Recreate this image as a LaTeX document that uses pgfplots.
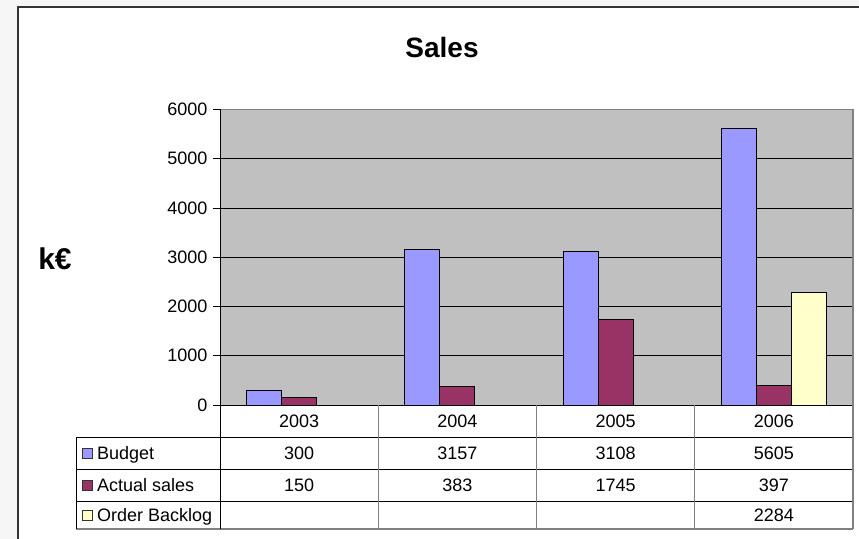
\documentclass[border=0pt]{standalone}
\usepackage{fontspec}
\setmainfont{Liberation Sans}
\usepackage{pgfplots}
\pgfplotsset{compat=1.18}

\definecolor{budget}{HTML}{9999FF}
\definecolor{actual}{HTML}{993366}
\definecolor{backlog}{HTML}{FFFFCC}
\definecolor{plotbg}{HTML}{C0C0C0}
\definecolor{tline}{HTML}{808080}

\begin{document}
\begin{tikzpicture}[x=1bp, y=1bp, font=\fontsize{18bp}{21.6bp}\selectfont]
  \useasboundingbox (0,0) rectangle (859,539);
  \clip (0,0) rectangle (859,539);
  % page background and chart frame
  \fill[gray!7] (0,0) rectangle (859,539);
  \fill[white] (18,-5) rectangle (870,532);
  \draw[line width=1.6bp, black!80] (18,-5) -- (18,532) -- (870,532);

  % title and unit
  \node[font=\fontsize{28bp}{32bp}\selectfont\bfseries] at (442,491) {Sales};
  \node[font=\fontsize{30bp}{34bp}\selectfont\bfseries] at (55,280) {k€};

  \begin{axis}[
    at={(220bp,134bp)}, anchor=south west,
    scale only axis, width=633bp, height=295.5bp,
    xmin=-0.5, xmax=3.5, ymin=0, ymax=6000,
    ybar=0pt, bar width=35bp,
    xtick=\empty,
    ytick={0,1000,...,6000},
    scaled y ticks=false,
    y tick label style={/pgf/number format/1000 sep={},
      /pgf/number format/assume math mode=true, xshift=-2bp},
    tick align=outside, major tick length=7bp, ytick pos=left,
    tick style={black, line width=0.8bp},
    ymajorgrids, grid style={black, line width=0.8bp},
    axis background/.style={fill=plotbg},
    axis line style={draw=none},
    clip=false,
  ]
  \addplot[fill=budget, draw=black, line width=0.9bp] coordinates {(0,300) (1,3157) (2,3108) (3,5605)};
  \addplot[fill=actual, draw=black, line width=0.9bp] coordinates {(0,150) (1,383) (2,1745) (3,397)};
  \addplot[fill=backlog, draw=black, line width=0.9bp] coordinates {(3,2284)};
  \draw[tline, line width=1.2bp] (rel axis cs:0,1) -- (rel axis cs:1,1) -- (rel axis cs:1,0);
  \draw[black, line width=0.9bp] (rel axis cs:0,1) -- (rel axis cs:0,0) -- (rel axis cs:1,0);
  \end{axis}

  % data table
  \foreach \y in {102,70,38} \draw[black, line width=0.9bp] (76,\y) -- (853,\y);
  \draw[tline, line width=1.2bp] (76,10) -- (853,10);
  \draw[black, line width=0.9bp] (76,102) -- (76,10);
  \draw[black, line width=0.9bp] (220,134) -- (220,10);
  \foreach \x in {378.25,536.5,694.75} \draw[tline, line width=0.9bp] (\x,134) -- (\x,10);
  \draw[tline, line width=1.2bp] (853,134) -- (853,10);

  % header row
  \foreach \yr [count=\i from 0] in {2003,2004,2005,2006}
    \node at (299.1+158.25*\i,118) {\yr};
  % row keys
  \foreach \c/\lab/\y in {budget/Budget/86, actual/Actual sales/54, backlog/Order Backlog/24} {
    \filldraw[fill=\c, draw=black!80, line width=0.8bp] (82,\y-5) rectangle (92,\y+5);
    \node[anchor=base west, inner sep=0pt] at (97,\y-6.4) {\lab};
  }
  % row values
  \foreach \v [count=\i from 0] in {300,3157,3108,5605}
    \node at (299.1+158.25*\i,86) {\v};
  \foreach \v [count=\i from 0] in {150,383,1745,397}
    \node at (299.1+158.25*\i,54) {\v};
  \node at (773.9,24) {2284};
\end{tikzpicture}
\end{document}
